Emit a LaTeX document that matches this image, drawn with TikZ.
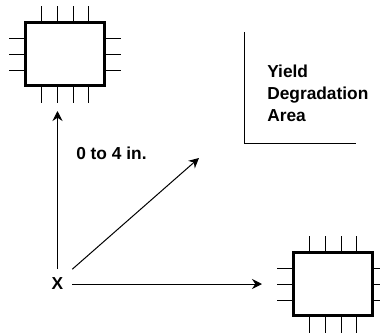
\documentclass[tikz,border=0pt]{standalone}
\usepackage{fontspec}
\setmainfont{Liberation Sans}
\usetikzlibrary{arrows.meta}
\newcommand{\chippins}[1]{%
  \foreach \dx in {-24,-8,8,23} {
    \draw[pin] ([xshift=\dx*0.75pt]#1.north) -- ++(0,-15);
    \draw[pin] ([xshift=\dx*0.75pt]#1.south) -- ++(0,16);
  }
  \foreach \dy in {-16,0,16} {
    \draw[pin] ([yshift=\dy*0.75pt]#1.west) -- ++(-15,0);
    \draw[pin] ([yshift=\dy*0.75pt]#1.east) -- ++(15,0);
  }}
\begin{document}
\begin{tikzpicture}[x=0.75pt, y=-0.75pt, >={Stealth[length=7.5pt,width=7.5pt]},
    chip/.style={draw, line width=2.25pt, minimum width=59.25pt, minimum height=47.25pt, inner sep=0pt},
    pin/.style={line width=0.7pt},
    link/.style={->, line width=0.75pt},
    label/.style={font=\fontsize{13}{16.5}\selectfont\bfseries, inner sep=0pt, align=left}]
    \useasboundingbox (0,0) rectangle (380,333);
    \node[chip] (chipa) at (65,54) {};
    \node[chip] (chipb) at (333,284) {};
    \chippins{chipa}
    \chippins{chipb}
    \node[label, minimum size=21.75pt] (src) at (57.5,284) {X};
    \coordinate (uptip) at (57.5,111);
    \coordinate (diagtip) at (199,158);
    \coordinate (sidetip) at (262,284);
    \draw[link] (src.north) -- (uptip);
    \draw[link] (src.north east) -- (diagtip);
    \draw[link] (src.east) -- (sidetip);
    \node[label, anchor=west] (dist) at (76,153) {0 to 4 in.};
    % area corner
    \coordinate (areatop) at (245,32);
    \coordinate (areacorner) at (245,143);
    \coordinate (areaend) at (356,143);
    \draw[line width=0.75pt] (areatop) -- (areacorner) -- (areaend);
    \node[label, anchor=west] (area) at (267,93) {Yield\\Degradation\\Area};
\end{tikzpicture}
\end{document}
